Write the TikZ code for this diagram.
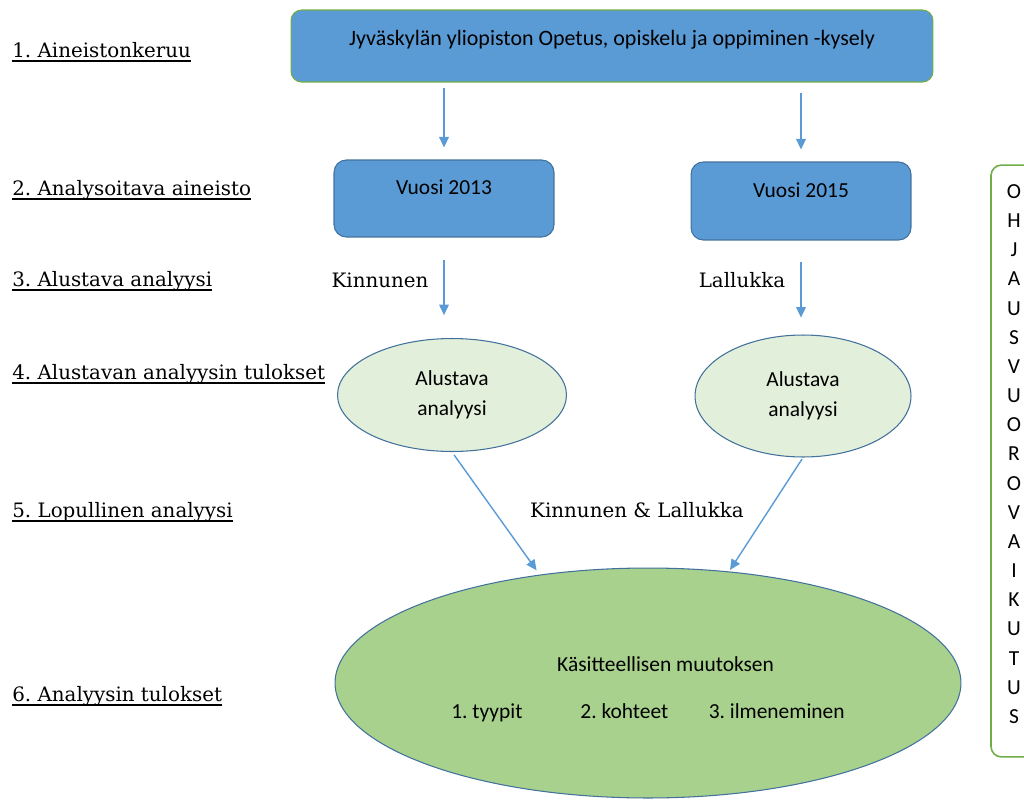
\documentclass[tikz,border=0pt]{standalone}
\usepackage{fontspec}
\setmainfont{DejaVu Serif}
\newfontfamily\boxfont{Carlito}
\usetikzlibrary{arrows.meta,shapes.geometric}
\definecolor{officeblue}{RGB}{91,155,213}
\definecolor{darkblue}{RGB}{65,113,156}
\definecolor{officegreen}{RGB}{112,173,71}
\definecolor{palegreen}{RGB}{226,239,218}
\definecolor{midgreen}{RGB}{169,209,142}
\frenchspacing
\newcommand\ulabel[1]{\setbox0\hbox{#1}\rlap{\rule[-2.6pt]{\wd0}{0.7pt}}\box0}

\begin{document}
\begin{tikzpicture}[x=0.02cm, y=-0.02cm,
    stage/.style={anchor=base west, inner sep=0pt, font=\fontsize{11.3}{15}\selectfont},
    author/.style={anchor=base, inner sep=0pt, font=\fontsize{11.3}{15}\selectfont},
    bluebox/.style={draw=darkblue, fill=officeblue, line width=0.6pt, rounded corners=7pt,
        font=\boxfont\fontsize{12.2}{14}\selectfont, text height=9pt, text depth=13pt},
    prelim/.style={ellipse, draw=darkblue, fill=palegreen, line width=0.6pt, inner sep=0pt,
        align=center, font=\boxfont\fontsize{12.2}{17}\selectfont},
    flow/.style={draw=officeblue, line width=0.8pt, -{Triangle[length=6pt,width=5.5pt]}}]
    \clip (0,0) rectangle (1024,801);

    % Stages on the left
    \node[stage] (s1) at (12,57) {\ulabel{1. Aineistonkeruu}};
    \node[stage] (s2) at (12,195) {\ulabel{2. Analysoitava aineisto}};
    \node[stage] (s3) at (12,286) {\ulabel{3. Alustava analyysi}};
    \node[stage] (s4) at (12,379) {\ulabel{4. Alustavan analyysin tulokset}};
    \node[stage] (s5) at (12,517) {\ulabel{5. Lopullinen analyysi}};
    \node[stage] (s6) at (12,701) {\ulabel{6. Analyysin tulokset}};

    % Survey and the two data sets
    \node[bluebox, draw=officegreen, rounded corners=6pt, minimum width=12.84cm, minimum height=1.44cm,
        font=\boxfont\fontsize{12.5}{14}\selectfont, text depth=10pt] (survey) at (612,46)
        {Jyväskylän yliopiston Opetus, opiskelu ja oppiminen -kysely};
    \node[bluebox, minimum width=4.4cm, minimum height=1.54cm] (y13) at (444,198.5) {Vuosi 2013};
    \node[bluebox, minimum width=4.4cm, minimum height=1.56cm] (y15) at (801,201) {Vuosi 2015};

    % Who analysed what
    \node[author] (kin) at (380,287) {Kinnunen};
    \node[author] (lal) at (742,287) {Lallukka};
    \node[author] (both) at (637,517) {Kinnunen \& Lallukka};

    % Preliminary results
    \node[prelim, minimum width=4.58cm, minimum height=2.26cm] (p13) at (452,395) {Alustava\\analyysi};
    \node[prelim, minimum width=4.32cm, minimum height=2.44cm] (p15) at (803,396) {Alustava\\analyysi};

    % Final result
    \node[ellipse, draw=darkblue, fill=midgreen, line width=0.6pt, minimum width=12.52cm, minimum height=4.6cm,
        align=center, font=\boxfont\fontsize{12.2}{26.6}\selectfont] (result) at (648,683)
        {\hspace*{20pt}\rule{0pt}{16pt}Käsitteellisen muutoksen\\1. tyypit\hspace{33pt}2. kohteet\hspace{23pt}3. ilmeneminen};

    % Guidance box on the right
    \node[draw=officegreen, line width=0.9pt, rounded corners=6pt, minimum width=0.92cm, minimum height=11.84cm,
        align=center, font=\boxfont\fontsize{12.2}{16.6}\selectfont] (side) at (1014,461)
        {O\\H\\J\\A\\U\\S\\V\\U\\O\\R\\O\\V\\A\\I\\K\\U\\T\\U\\S\rule[-8pt]{0pt}{8pt}};

    % Arrows
    \draw[flow, shorten <=3.4pt, shorten >=6.8pt] (survey.south -| y13) -- (y13.north);
    \draw[flow, shorten <=5.7pt, shorten >=6.8pt] (survey.south -| y15) -- (y15.north);
    \draw[flow, shorten <=13pt, shorten >=13pt] (y13.south) -- (y13.south |- p13.north);
    \draw[flow, shorten <=12.5pt, shorten >=9.6pt] (y15.south) -- (y15.south |- p15.north);
    \draw[flow, shorten <=2pt, shorten >=3pt] (p13.south) -- (result.135);
    \draw[flow, shorten <=1pt, shorten >=1pt] (p15.south) -- (result.54);
\end{tikzpicture}
\end{document}
